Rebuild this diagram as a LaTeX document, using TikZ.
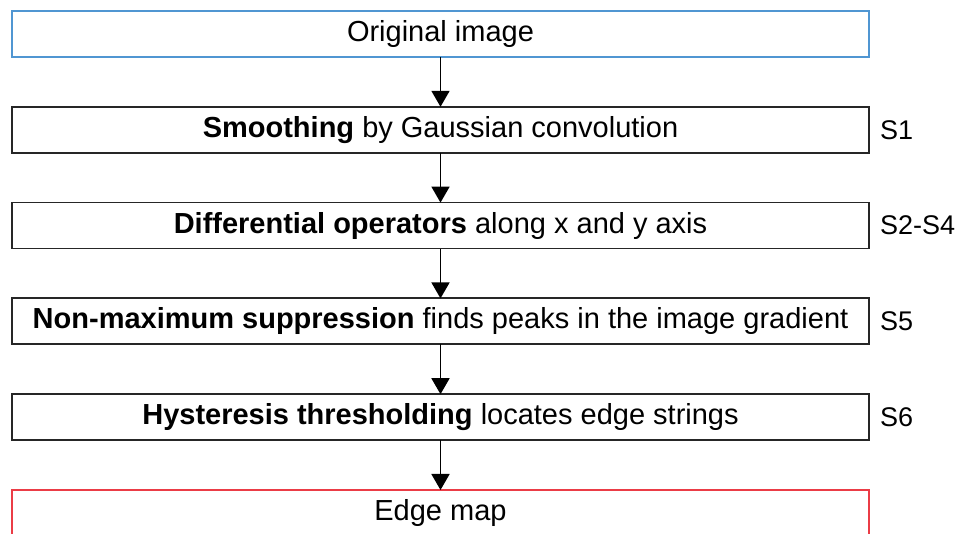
\documentclass[tikz,border=0pt]{standalone}
\usepackage{fontspec}
\setmainfont{Liberation Sans}
\usetikzlibrary{arrows.meta,positioning}
\definecolor{origblue}{RGB}{80,150,210}
\definecolor{edgered}{RGB}{235,60,70}

\begin{document}
\begin{tikzpicture}[
        x=1pt,y=1pt,
    stepbox/.style={
        draw=black!85,
        line width=1.8pt,
        fill=white,
        outer sep=0pt,
        inner sep=0pt,
        minimum width=857pt,
        minimum height=46pt,
        font=\fontsize{29}{34}\selectfont},
    steplabel/.style={
        anchor=west,
        inner sep=0pt,
        font=\fontsize{27}{32}\selectfont},
    myarrow/.style={-{Triangle[width=18pt,length=16pt]},line width=1.8pt},
    node distance=49.8pt
    ]
    \useasboundingbox (0,0) rectangle (962,-534);
    \node[stepbox,draw=origblue] (orig) at (440.5,-34) {Original image};
    \node[stepbox,below=of orig] (smooth) {\textbf{Smoothing} by Gaussian convolution};
    \node[stepbox,below=of smooth] (diff) {\textbf{Differential operators} along x and y axis};
    \node[stepbox,below=of diff] (nms) {\textbf{Non-maximum suppression} finds peaks in the image gradient};
    \node[stepbox,below=of nms] (hyst) {\textbf{Hysteresis thresholding} locates edge strings};
    \node[stepbox,draw=edgered,below=of hyst] (edge) {Edge map};

    \foreach \i/\j in {orig/smooth,smooth/diff,diff/nms,nms/hyst,hyst/edge}
        \draw [myarrow] (\i) -- (\j);

    \foreach \i/\txt in {smooth/S1,diff/S2-S4,nms/S5,hyst/S6}
        \node[steplabel,right=11pt of \i] (lbl-\i) {\txt};
    \end{tikzpicture}
\end{document}
